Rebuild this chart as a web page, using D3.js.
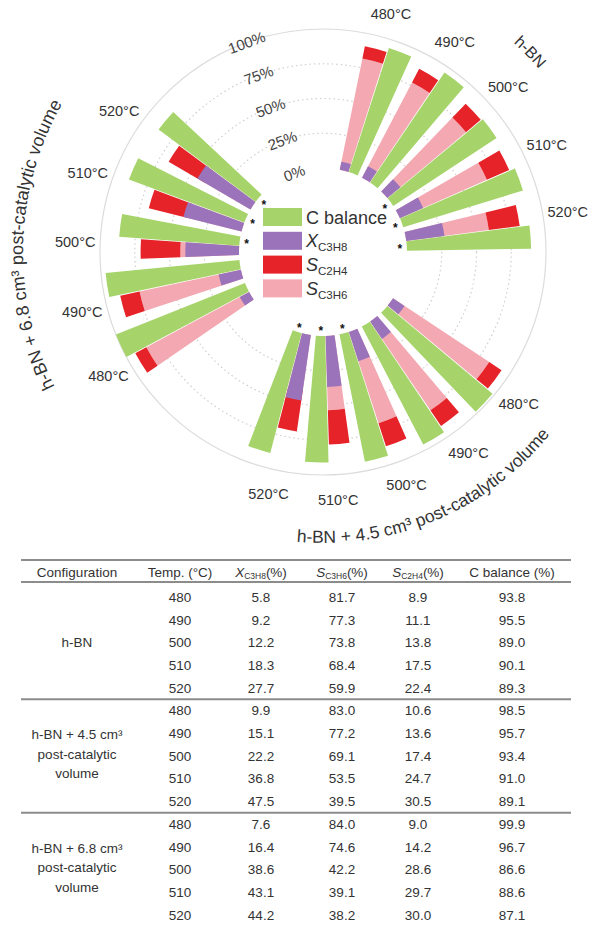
<!DOCTYPE html>
<html>
<head>
<meta charset="utf-8">
<script src="https://cdn.jsdelivr.net/npm/d3@7"></script>
<style>
  body { margin: 0; background: #fff; }
  text { font-family: "Liberation Sans", Arial, sans-serif; fill: #333; }
</style>
</head>
<body>
<svg id="chart" width="593" height="926"></svg>
<script>
var configs = ["h-BN", "h-BN + 4.5 cm³ post-catalytic volume", "h-BN + 6.8 cm³ post-catalytic volume"];
var configLines = [["h-BN"], ["h-BN + 4.5 cm³", "post-catalytic", "volume"], ["h-BN + 6.8 cm³", "post-catalytic", "volume"]];
var temps = [480, 490, 500, 510, 520];
var xC3H8 = [[5.8, 9.2, 12.2, 18.3, 27.7], [9.9, 15.1, 22.2, 36.8, 47.5], [7.6, 16.4, 38.6, 43.1, 44.2]];
var sC3H6 = [[81.7, 77.3, 73.8, 68.4, 59.9], [83.0, 77.2, 69.1, 53.5, 39.5], [84.0, 74.6, 42.2, 39.1, 38.2]];
var sC2H4 = [[8.9, 11.1, 13.8, 17.5, 22.4], [10.6, 13.6, 17.4, 24.7, 30.5], [9.0, 14.2, 28.6, 29.7, 30.0]];
var cBalance = [[93.8, 95.5, 89.0, 90.1, 89.3], [98.5, 95.7, 93.4, 91.0, 89.1], [99.9, 96.7, 86.6, 88.6, 87.1]];
var marked = [500, 510, 520];
var pctTicks = [0, 25, 50, 75, 100];

var col = {c: "#a6d46b", x: "#9a73ba", s2: "#e62329", s3: "#f4a8b1"};

var svg = d3.select("#chart");
var rad = Math.PI / 180;
var cx = 323, cy = 252;

var r = d3.scaleLinear().domain([0, 100]).range([84, 223]);
var groupStart = [11.5, 123.5, 235.5];
var slot = d3.scaleBand().domain(temps).range([0, 77.6 * rad]).paddingInner(0.21);
var bw = slot.bandwidth();

var g = svg.append("g").attr("transform", "translate(" + cx + "," + cy + ")");

// grid circles
g.selectAll("circle.grid")
  .data(pctTicks.slice(1))
  .enter().append("circle")
  .attr("r", function(d) { return r(d); })
  .attr("fill", "none")
  .attr("stroke", function(d) { return d == 100 ? "#dcdcdc" : "#cfcfcf"; })
  .attr("stroke-width", 1.2)
  .attr("stroke-dasharray", function(d) { return d == 100 ? null : "1.5,3"; });

function pt(a, rr) { return [rr * Math.sin(a), -rr * Math.cos(a)]; }

var arc = d3.arc();
var bars = [];
configs.forEach(function(c, gi) {
  temps.forEach(function(t, i) {
    var a0 = groupStart[gi] * rad + slot(t);
    var pinkA = [a0, a0 + bw * 0.48], greenA = [a0 + bw * 0.5, a0 + bw];
    bars.push({a: pinkA, r0: 0, r1: sC3H6[gi][i], fill: col.s3});
    bars.push({a: pinkA, r0: sC3H6[gi][i], r1: sC3H6[gi][i] + sC2H4[gi][i], fill: col.s2});
    bars.push({a: pinkA, r0: 0, r1: xC3H8[gi][i], fill: col.x});
    bars.push({a: greenA, r0: 0, r1: cBalance[gi][i], fill: col.c});
  });
});

g.selectAll("path.bar")
  .data(bars)
  .enter().append("path")
  .attr("class", "bar")
  .attr("fill", function(d) { return d.fill; })
  .attr("d", function(d) {
    return arc({innerRadius: r(d.r0), outerRadius: r(d.r1), startAngle: d.a[0], endAngle: d.a[1]});
  });

// asterisks and temperature labels
configs.forEach(function(c, gi) {
  temps.forEach(function(t) {
    var a0 = groupStart[gi] * rad + slot(t);
    var p = pt(a0 + bw / 2 - 2 * rad, 248);
    g.append("text")
      .attr("x", p[0]).attr("y", p[1])
      .attr("text-anchor", "middle")
      .attr("dominant-baseline", "central")
      .style("font-size", "14.5px")
      .text(t + "°C");
    if (marked.indexOf(t) >= 0) {
      var q = pt(a0 + bw * 0.75, 77);
      g.append("text")
        .attr("x", q[0]).attr("y", q[1] + 6.5)
        .attr("text-anchor", "middle")
        .style("font-size", "12px")
        .style("font-weight", "bold")
        .style("fill", "#111")
        .text("*");
    }
  });
});

// percent axis labels
var tickAng = -20;
pctTicks.forEach(function(v) {
  var p = pt(tickAng * rad, r(v));
  g.append("text")
    .attr("transform", "translate(" + p[0] + "," + p[1] + ") rotate(" + tickAng + ")")
    .attr("text-anchor", "middle")
    .attr("dominant-baseline", "central")
    .style("font-size", "15px")
    .style("fill", "#444")
    .text(v + "%");
});

// curved group titles
function arcPath(rr, a1, a2) {
  var p1 = pt(a1 * rad, rr), p2 = pt(a2 * rad, rr);
  var sweep = a2 > a1 ? 1 : 0;
  return "M" + p1[0] + "," + p1[1] + " A" + rr + "," + rr + " 0 0," + sweep + " " + p2[0] + "," + p2[1];
}
var titles = [
  {id: "t0", r: 283, a1: 15, a2: 77, size: 16},
  {id: "t1", r: 291, a1: 205, a2: 109, size: 17.5},
  {id: "t2", r: 300, a1: 236, a2: 307, size: 18}
];
titles.forEach(function(d, i) {
  g.append("path").attr("id", d.id).attr("d", arcPath(d.r, d.a1, d.a2)).attr("fill", "none");
  g.append("text")
    .style("font-size", d.size + "px")
    .append("textPath")
    .attr("href", "#" + d.id)
    .attr("startOffset", "50%")
    .attr("text-anchor", "middle")
    .text(configs[i]);
});

// legend
var legendKeys = [
  {fill: col.c, main: "C balance", sub: null},
  {fill: col.x, main: "X", sub: "C3H8"},
  {fill: col.s2, main: "S", sub: "C2H4"},
  {fill: col.s3, main: "S", sub: "C3H6"}
];
var leg = svg.append("g").attr("transform", "translate(263,208)");
legendKeys.forEach(function(d, i) {
  var y = i * 23.8;
  leg.append("rect").attr("x", 0).attr("y", y).attr("width", 39).attr("height", 18).attr("fill", d.fill);
  var t = leg.append("text").attr("x", 43).attr("y", y + 15.5).style("font-size", "18px");
  if (d.sub) {
    t.append("tspan").style("font-style", "italic").text(d.main);
    t.append("tspan").attr("dy", 4).style("font-size", "11.5px").text(d.sub);
  } else {
    t.text(d.main);
  }
});

// table
var tbl = svg.append("g");
var colX = [77, 180, 261, 342, 418, 512];
var lineL = 21, lineR = 571;
function hline(y) {
  tbl.append("line").attr("x1", lineL).attr("x2", lineR).attr("y1", y).attr("y2", y)
    .attr("stroke", "#8c8c8c").attr("stroke-width", 2);
}
hline(560);
hline(582);

var headers = [
  {main: "Configuration"}, {main: "Temp. (°C)"},
  {it: "X", sub: "C3H8", tail: "(%)"}, {it: "S", sub: "C3H6", tail: "(%)"},
  {it: "S", sub: "C2H4", tail: "(%)"}, {main: "C balance (%)"}
];
headers.forEach(function(h, i) {
  var t = tbl.append("text").attr("x", colX[i]).attr("y", 576.5)
    .attr("text-anchor", "middle").style("font-size", "13.5px");
  if (h.main) { t.text(h.main); return; }
  t.append("tspan").style("font-style", "italic").text(h.it);
  t.append("tspan").attr("dy", 2.5).style("font-size", "8.5px").text(h.sub);
  t.append("tspan").attr("dy", -2.5).text(h.tail);
});

var rowH = 22.7, row0 = 597;
configs.forEach(function(c, gi) {
  temps.forEach(function(t, i) {
    var y = row0 + (gi * 5 + i) * rowH + 4.8;
    var vals = [t, xC3H8[gi][i].toFixed(1), sC3H6[gi][i].toFixed(1), sC2H4[gi][i].toFixed(1), cBalance[gi][i].toFixed(1)];
    vals.forEach(function(v, k) {
      tbl.append("text").attr("x", colX[k + 1]).attr("y", y)
        .attr("text-anchor", "middle").style("font-size", "13.5px").text(v);
    });
  });
  if (gi > 0) hline(row0 + (gi * 5 - 0.5) * rowH);
  var lines = configLines[gi];
  var lh = 19.5;
  var yStart = lines.length == 1 ? row0 + (gi * 5 + 2) * rowH : row0 + (gi * 5 + 1) * rowH + 1;
  lines.forEach(function(l, k) {
    tbl.append("text").attr("x", colX[0]).attr("y", yStart + k * lh + 4.8)
      .attr("text-anchor", "middle").style("font-size", "13.5px").text(l);
  });
});
</script>
</body>
</html>
